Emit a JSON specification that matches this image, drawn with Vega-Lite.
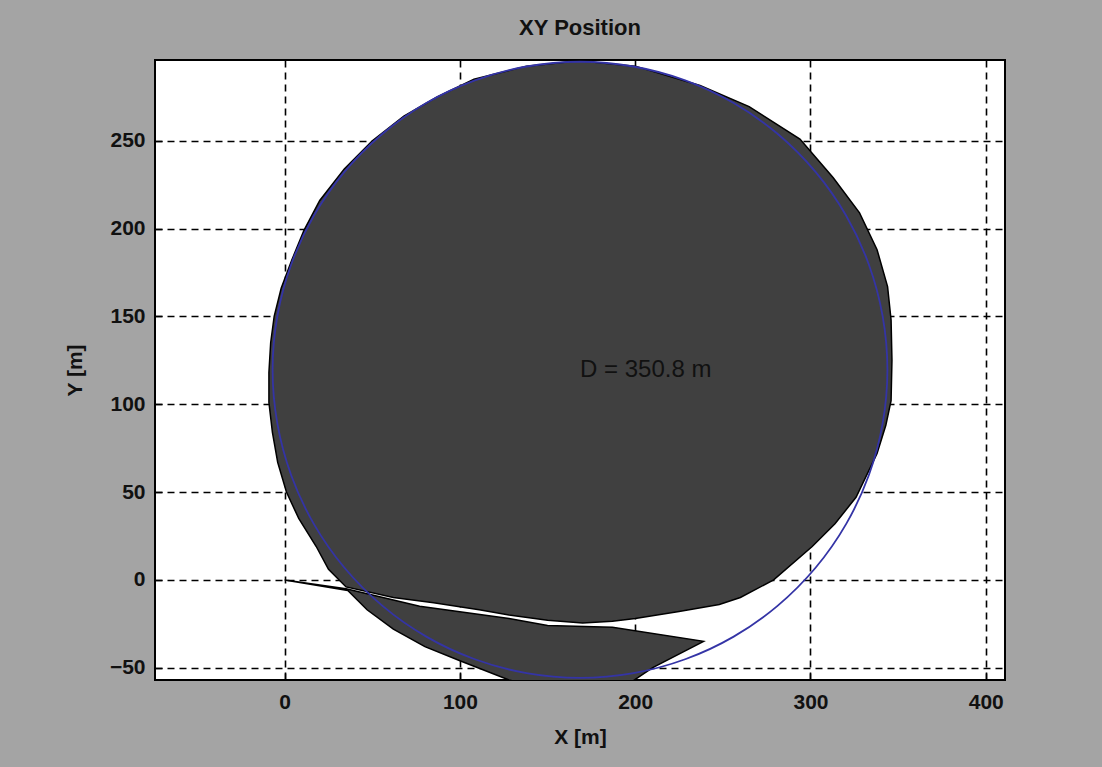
{
  "$schema": "https://vega.github.io/schema/vega-lite/v6.json",
  "autosize": "none",
  "width": 850,
  "height": 620,
  "padding": {"left": 155, "top": 60, "right": 97, "bottom": 87},
  "background": "#a4a4a4",
  "title": {"text": "XY Position", "font": "Liberation Sans", "fontSize": 22, "fontWeight": "bold", "color": "#111111", "offset": 20, "anchor": "middle"},
  "config": {
    "view": {"fill": "white", "stroke": "black", "strokeWidth": 2},
    "axis": {
      "labelFont": "Liberation Sans", "labelFontSize": 21, "labelColor": "#111111", "labelFontWeight": "bold",
      "titleFont": "Liberation Sans", "titleFontSize": 21, "titleColor": "#111111", "titleFontWeight": "bold",
      "grid": true, "gridColor": "black", "gridDash": [7, 5], "gridWidth": 1.6, "gridOpacity": 1,
      "domain": false, "tickColor": "black", "tickWidth": 1.5, "tickSize": -7
    }
  },
  "datasets": {
    "blob": [
      {"i": 0, "x": 168, "y": 295.5}, {"i": 1, "x": 200, "y": 292.5}, {"i": 2, "x": 237, "y": 281.5},
      {"i": 3, "x": 265, "y": 269.5}, {"i": 4, "x": 294, "y": 251}, {"i": 5, "x": 313, "y": 229},
      {"i": 6, "x": 328, "y": 209}, {"i": 7, "x": 338, "y": 188}, {"i": 8, "x": 344, "y": 167},
      {"i": 9, "x": 346, "y": 148}, {"i": 10, "x": 346.5, "y": 125}, {"i": 11, "x": 346, "y": 102},
      {"i": 12, "x": 343, "y": 88}, {"i": 13, "x": 338, "y": 72}, {"i": 14, "x": 326, "y": 47},
      {"i": 15, "x": 314, "y": 32}, {"i": 16, "x": 301, "y": 19}, {"i": 17, "x": 279, "y": 0},
      {"i": 18, "x": 260, "y": -10}, {"i": 19, "x": 248, "y": -14}, {"i": 20, "x": 225, "y": -18},
      {"i": 21, "x": 200, "y": -22}, {"i": 22, "x": 187, "y": -23.5}, {"i": 23, "x": 170, "y": -24.5},
      {"i": 24, "x": 150, "y": -23}, {"i": 25, "x": 128, "y": -20}, {"i": 26, "x": 111, "y": -17},
      {"i": 27, "x": 85, "y": -13}, {"i": 28, "x": 62, "y": -10}, {"i": 29, "x": 35, "y": -4},
      {"i": 30, "x": 25, "y": 6}, {"i": 31, "x": 18, "y": 19}, {"i": 32, "x": 8, "y": 35},
      {"i": 33, "x": 1, "y": 50}, {"i": 34, "x": -4, "y": 67}, {"i": 35, "x": -7, "y": 84},
      {"i": 36, "x": -9, "y": 101}, {"i": 37, "x": -9, "y": 118}, {"i": 38, "x": -8, "y": 135},
      {"i": 39, "x": -6, "y": 150}, {"i": 40, "x": -2, "y": 166}, {"i": 41, "x": 4, "y": 182},
      {"i": 42, "x": 11, "y": 199}, {"i": 43, "x": 20, "y": 216}, {"i": 44, "x": 34, "y": 234},
      {"i": 45, "x": 50, "y": 250}, {"i": 46, "x": 68, "y": 264}, {"i": 47, "x": 87, "y": 275},
      {"i": 48, "x": 108, "y": 285}, {"i": 49, "x": 138, "y": 292.5}
    ],
    "wedge": [
      {"i": 0, "x": 0, "y": 0}, {"i": 1, "x": 35, "y": -5}, {"i": 2, "x": 77, "y": -15},
      {"i": 3, "x": 128, "y": -22}, {"i": 4, "x": 150, "y": -26}, {"i": 5, "x": 187, "y": -27},
      {"i": 6, "x": 239, "y": -35}, {"i": 7, "x": 210, "y": -50}, {"i": 8, "x": 198, "y": -58},
      {"i": 9, "x": 150, "y": -62}, {"i": 10, "x": 128, "y": -57}, {"i": 11, "x": 100, "y": -46},
      {"i": 12, "x": 80, "y": -38}, {"i": 13, "x": 62, "y": -28}, {"i": 14, "x": 47, "y": -17},
      {"i": 15, "x": 36, "y": -6}
    ],
    "circle": [
      {"i": 0, "x": 343.9, "y": 119.6}, {"i": 1, "x": 341.2, "y": 150.1}, {"i": 2, "x": 333.3, "y": 179.6},
      {"i": 3, "x": 320.4, "y": 207.3}, {"i": 4, "x": 302.9, "y": 232.3}, {"i": 5, "x": 281.2, "y": 254.0},
      {"i": 6, "x": 256.2, "y": 271.5}, {"i": 7, "x": 228.5, "y": 284.4}, {"i": 8, "x": 199.0, "y": 292.3},
      {"i": 9, "x": 168.5, "y": 295.0}, {"i": 10, "x": 138.0, "y": 292.3}, {"i": 11, "x": 108.5, "y": 284.4},
      {"i": 12, "x": 80.8, "y": 271.5}, {"i": 13, "x": 55.8, "y": 254.0}, {"i": 14, "x": 34.1, "y": 232.3},
      {"i": 15, "x": 16.6, "y": 207.3}, {"i": 16, "x": 3.7, "y": 179.6}, {"i": 17, "x": -4.2, "y": 150.1},
      {"i": 18, "x": -6.9, "y": 119.6}, {"i": 19, "x": -4.2, "y": 89.1}, {"i": 20, "x": 3.7, "y": 59.6},
      {"i": 21, "x": 16.6, "y": 31.9}, {"i": 22, "x": 34.1, "y": 6.9}, {"i": 23, "x": 55.8, "y": -14.8},
      {"i": 24, "x": 80.8, "y": -32.3}, {"i": 25, "x": 108.5, "y": -45.2}, {"i": 26, "x": 138.0, "y": -53.1},
      {"i": 27, "x": 168.5, "y": -55.8}, {"i": 28, "x": 199.0, "y": -53.1}, {"i": 29, "x": 228.5, "y": -45.2},
      {"i": 30, "x": 256.2, "y": -32.3}, {"i": 31, "x": 281.2, "y": -14.8}, {"i": 32, "x": 302.9, "y": 6.9},
      {"i": 33, "x": 320.4, "y": 31.9}, {"i": 34, "x": 333.3, "y": 59.6}, {"i": 35, "x": 341.2, "y": 89.1}
    ],
    "label": [{"x": 168.5, "y": 119.6, "t": "D = 350.8 m"}]
  },
  "layer": [
    {
      "data": {"name": "blob"},
      "mark": {"type": "line", "interpolate": "linear-closed", "fill": "#404040", "stroke": "black", "strokeWidth": 1.5, "clip": true},
      "encoding": {
        "x": {"field": "x", "type": "quantitative", "scale": {"domain": [-74, 411], "nice": false, "zero": false},
              "axis": {"values": [0, 100, 200, 300, 400], "title": "X [m]", "labelPadding": 18, "titlePadding": 14}},
        "y": {"field": "y", "type": "quantitative", "scale": {"domain": [-57, 296], "nice": false, "zero": false},
              "axis": {"values": [-50, 0, 50, 100, 150, 200, 250], "title": "Y [m]", "labelPadding": 17, "titlePadding": 24}},
        "order": {"field": "i", "type": "quantitative"}
      }
    },
    {
      "data": {"name": "wedge"},
      "mark": {"type": "line", "interpolate": "linear-closed", "fill": "#404040", "stroke": "black", "strokeWidth": 1.5, "clip": true},
      "encoding": {
        "x": {"field": "x", "type": "quantitative"},
        "y": {"field": "y", "type": "quantitative"},
        "order": {"field": "i", "type": "quantitative"}
      }
    },
    {
      "data": {"name": "circle"},
      "mark": {"type": "line", "interpolate": "cardinal-closed", "stroke": "#3434a6", "strokeWidth": 1.8, "clip": true},
      "encoding": {
        "x": {"field": "x", "type": "quantitative"},
        "y": {"field": "y", "type": "quantitative"},
        "order": {"field": "i", "type": "quantitative"}
      }
    },
    {
      "data": {"name": "label"},
      "mark": {"type": "text", "align": "left", "baseline": "middle", "font": "Liberation Sans", "fontSize": 24, "color": "#111111"},
      "encoding": {
        "x": {"field": "x", "type": "quantitative"},
        "y": {"field": "y", "type": "quantitative"},
        "text": {"field": "t"}
      }
    }
  ]
}
